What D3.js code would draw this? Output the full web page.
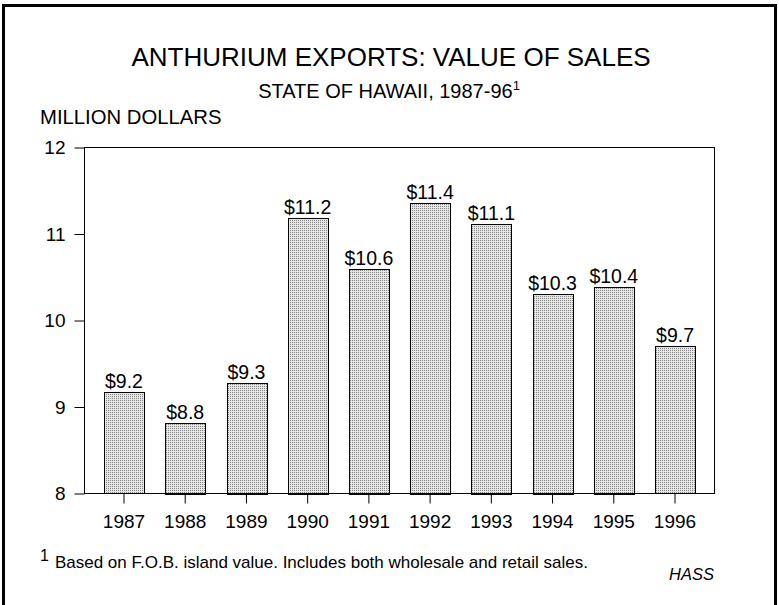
<!DOCTYPE html>
<html>
<head>
<meta charset="utf-8">
<script src="https://cdn.jsdelivr.net/npm/d3@7"></script>
<style>
  html, body { margin: 0; padding: 0; background: #fff; }
  svg { display: block; }
  text { font-family: Arial, "Liberation Sans", Helvetica, sans-serif; fill: #000; }
</style>
</head>
<body>
<svg id="chart" width="779" height="605"></svg>
<script>
const years = ["1987","1988","1989","1990","1991","1992","1993","1994","1995","1996"];
const values = [9.17, 8.82, 9.28, 11.19, 10.60, 11.36, 11.12, 10.31, 10.39, 9.70];
const valueLabels = ["$9.2","$8.8","$9.3","$11.2","$10.6","$11.4","$11.1","$10.3","$10.4","$9.7"];
const yTicks = [8, 9, 10, 11, 12];
const yDomain = [8, 12];

const svg = d3.select("#chart");
const W = 779, H = 605;
const plot = {left: 84.5, right: 714.5, top: 147.5, bottom: 493.5};

// stipple pattern
const defs = svg.append("defs");
const pat = defs.append("pattern").attr("id", "stip")
  .attr("patternUnits", "userSpaceOnUse").attr("width", 2).attr("height", 2);
pat.append("rect").attr("width", 2).attr("height", 2).attr("fill", "#e6e6e6");
pat.append("rect").attr("width", 1).attr("height", 1).attr("fill", "#858585");

svg.append("rect").attr("width", W).attr("height", H).attr("fill", "#fff");

// outer border (bottom edge runs off the picture)
svg.append("rect").attr("x", 3.5).attr("y", 5.5).attr("width", 772).attr("height", 640)
  .attr("fill", "none").attr("stroke", "#000").attr("stroke-width", 3);

const x = d3.scaleBand().domain(years).range([plot.left, plot.right])
  .paddingInner(0.35).paddingOuter(0.32);
const y = d3.scaleLinear().domain(yDomain).range([plot.bottom, plot.top]);

// titles
svg.append("text").attr("x", 391).attr("y", 66).attr("text-anchor", "middle")
  .style("font-size", "26px").text("ANTHURIUM EXPORTS: VALUE OF SALES");
const sub = svg.append("text").attr("x", 389).attr("y", 98).attr("text-anchor", "middle")
  .style("font-size", "20px");
sub.append("tspan").text("STATE OF HAWAII, 1987-96");
sub.append("tspan").attr("dy", -8).style("font-size", "13px").text("1");

svg.append("text").attr("x", 40).attr("y", 124).style("font-size", "20.3px").text("MILLION DOLLARS");

// bars
svg.append("g").selectAll("rect").data(values).join("rect")
  .attr("x", (d, i) => Math.round(x(years[i])) + 0.5)
  .attr("y", d => Math.round(y(d)) + 0.5)
  .attr("width", Math.round(x.bandwidth()))
  .attr("height", d => Math.round(y(yDomain[0]) - y(d)))
  .attr("fill", "url(#stip)").attr("stroke", "#000").attr("stroke-width", 1);

// value labels
svg.append("g").selectAll("text").data(values).join("text")
  .attr("x", (d, i) => x(years[i]) + x.bandwidth() / 2)
  .attr("y", d => y(d) - 4)
  .attr("text-anchor", "middle").style("font-size", "19.5px")
  .text((d, i) => valueLabels[i]);

// frame
svg.append("rect").attr("x", plot.left).attr("y", plot.top)
  .attr("width", plot.right - plot.left).attr("height", plot.bottom - plot.top)
  .attr("fill", "none").attr("stroke", "#000").attr("stroke-width", 1);

// y axis
const yAxis = d3.axisLeft(y).tickValues(yTicks).tickSize(10).tickPadding(9).tickFormat(d3.format("d"));
const gy = svg.append("g").attr("transform", `translate(${plot.left},0)`).call(yAxis);
gy.select(".domain").remove();
gy.selectAll("line").attr("stroke", "#000");
gy.selectAll("text").style("font-size", "19px").style("font-family", "Arial, 'Liberation Sans', sans-serif");

// x axis
const xAxis = d3.axisBottom(x).tickSize(10).tickPadding(11);
const gx = svg.append("g").attr("transform", `translate(0,${plot.bottom})`).call(xAxis);
gx.select(".domain").remove();
gx.selectAll("line").attr("stroke", "#000");
gx.selectAll("text").style("font-size", "19px").style("font-family", "Arial, 'Liberation Sans', sans-serif");

// footnote
const fn = svg.append("text").attr("x", 40).attr("y", 568).style("font-size", "17px");
fn.append("tspan").style("font-size", "16px").attr("dy", -7).text("1");
fn.append("tspan").attr("dx", 6).attr("dy", 7).text("Based on F.O.B. island value. Includes both wholesale and retail sales.");

svg.append("text").attr("x", 714).attr("y", 580).attr("text-anchor", "end")
  .style("font-size", "16.5px").style("font-style", "italic").text("HASS");
</script>
</body>
</html>
